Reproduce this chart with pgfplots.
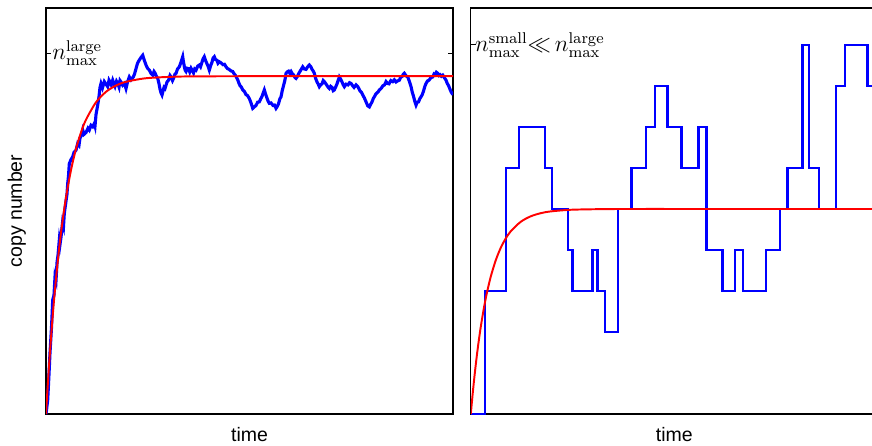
\documentclass[border=0pt]{standalone}
\usepackage{pgfplots}
\pgfplotsset{compat=1.18}
\usepackage[no-math]{fontspec}
\setmainfont{Liberation Sans}
\begin{document}
\begin{tikzpicture}
\pgfplotsset{
  panel/.style={scale only axis, width=208.8pt, height=208.3pt,
    xmin=0, xmax=407, xtick=\empty, ytick pos=both, tick align=inside,
    major tick length=2.5pt, yticklabels={},
    axis line style={line width=0.6pt, black},
    tick style={line width=0.5pt, black}, clip=true},
}
\begin{axis}[panel, name=L, at={(0,0)}, anchor=south west, ymin=0, ymax=112.5, ytick={100}]
\addplot[blue, line width=1.6pt] coordinates {
(0,0) (1.7,3.9) (3,11) (4,17) (5.5,24) (6.7,31.6) (8,33) (9,38) (10,37) (11,42) (12,44) (13.3,48.2) (14,47) (15,49) (16.5,53) (17.5,52) (18.3,55.6) (20,59) (21,61) (21.7,63.9) (22.5,66) (23.3,69.4) (25,70.5) (26.7,71.3) (28,72.5) (30,73.1) (31.7,75) (33,74.5) (34,76.5) (35.5,77.2) (36.7,78.7) (38,77.5) (40,78) (42,79.2) (43.3,78.7) (45,80) (46.7,79.6) (48.3,80.5) (49,79.8) (50,83) (51.7,85.6) (53,88) (54,90.5) (55,91.6) (56.5,90.4) (58.3,92.1) (60,91.4) (61.7,90.7) (63,92.5) (64,92) (65.3,91.2) (66.7,92.5) (68,91.5) (69,90.8) (70.5,92.2) (71.7,91.6) (73,90.6) (74,92.4) (75.5,91.8) (76.7,91.1) (78.5,91.6) (80,90.2) (81.5,92) (83.3,93.4) (85,92.6) (87.3,93.4) (88.5,94.2) (90,95.7) (91.5,97.2) (93.3,98.1) (95,98.8) (96.7,99.4) (98.3,98) (100,96.7) (101.5,95.8) (103.3,95.3) (105,94.4) (106.7,93.9) (108,94.9) (109,94.5) (110.5,93.5) (111.7,93) (113,91.5) (114,90) (115,89) (116,88.4) (117,89.5) (118,90.5) (119,90.2) (120,91.1) (121,92) (122.5,92.5) (124,93.8) (125,93.4) (126.5,92.4) (127.5,93) (129,94.2) (130,94.4) (131.5,95.6) (133.3,96.2) (135,97.5) (136.7,99) (137.5,97.5) (138.5,96) (139.2,95.2) (140,94.9) (141.2,95.8) (142.5,95.7) (143.7,94.8) (145,95.8) (146.2,95.2) (147.5,94.5) (148.7,95.6) (150,95.3) (151.7,96.4) (153.3,96.7) (154.5,96.2) (156,97.5) (157,98.4) (158.3,99) (159.5,98) (161,97) (162,96.4) (163.3,95.3) (164.6,96.5) (166,97.5) (167,98.6) (168.3,99) (169.5,98.2) (171,98) (172,97.2) (173.3,97.6) (175,97.3) (177,96.8) (178.5,96.9) (180,96.2) (181.5,95.7) (183,95.5) (184.8,95.1) (186.7,94.9) (188,94.3) (189,94) (190.3,93.4) (191.7,92.6) (193,91.6) (194,91) (195.3,90.6) (196.7,89.8) (198.3,89.4) (200,88.5) (201.6,88.2) (203.3,87.4) (205,86.2) (206.7,84.7) (208.3,85.1) (210,85.5) (211.6,86.4) (213.3,86.5) (214.6,87.3) (216,88) (217.2,89) (218.3,89.8) (219.6,88.6) (221,87.5) (222.2,86.6) (223.3,86.1) (225,86.2) (227,85.5) (228.5,85.6) (230,84.7) (231.2,85.2) (232.5,86) (233.8,87.3) (235,87.9) (236.2,89.6) (237.5,91) (238.8,92.4) (240,94.4) (241.2,94.8) (242.5,95) (243.8,94.4) (245,94.9) (246.2,94.3) (247.5,94) (248.8,93.3) (250,93) (251.5,93.6) (253,94.5) (255,95.4) (256.7,96.2) (258.3,95.6) (260,95.5) (261.6,96.2) (263.3,96.7) (264.6,96.3) (266,95.5) (267.2,95) (268.3,94.4) (269.6,93) (271,92) (272.2,91.4) (273.3,90.7) (274.6,91.2) (276,91.5) (277.2,92.4) (278.3,92.1) (279.6,91.6) (281,91) (282.2,90.5) (283.3,90.2) (284.6,90.8) (286,90.5) (287.2,89.6) (288.3,89.8) (289.6,90.6) (291,91.5) (292.2,92.5) (293.3,93.4) (294.6,92.8) (296,92) (297.2,91.2) (298.3,90.7) (300,91.4) (302,91.2) (303.5,91.8) (305,91.6) (306.5,91) (308,90.5) (310,91.2) (311.7,90.7) (313,90.1) (314,89.5) (315.3,89.2) (316.7,88.4) (318.3,87.6) (320,86.5) (321.7,85.4) (323.3,85.1) (324.6,85.8) (326,86.5) (327.2,87.4) (328.3,87.9) (329.6,88.6) (331,89) (332.2,89.3) (333.3,89.8) (335,90.2) (337,91) (338.5,91.2) (340,92.1) (341.5,91.6) (343,91.5) (344.8,92.4) (346.7,92.1) (348.3,92.6) (350,92) (351.6,92.3) (353.3,92.5) (354.6,93.3) (356,93.5) (357.2,94.1) (358.3,94.4) (360,93.7) (361.7,93.4) (363.3,92.2) (365,90.7) (366.2,89.2) (367.5,88) (368.8,86.6) (370,85.6) (371.2,86.4) (372.5,86.5) (373.8,87.4) (375,87.9) (376.2,88.5) (377.5,89.5) (378.8,90.8) (380,91.6) (381.5,92.3) (383,92.5) (384.8,93.2) (386.7,93.4) (388,94.2) (389,94) (390.3,94.7) (391.7,94.4) (393,93.8) (394,94) (395.3,93.6) (396.7,93.9) (398.3,93.2) (400,92.5) (401.2,91.6) (402.5,91) (403.8,90.1) (405,89.3) (406,88.8) (407,88.5)
};
\addplot[red, line width=1pt, smooth] coordinates {
(0,0) (2,9.13) (4,17.35) (6,24.79) (8,31.50) (10,37.55) (13,45.55) (16,52.40) (20,60.03) (25,67.62) (30,73.50) (35,78.05) (40,81.56) (50,86.39) (60,89.28) (70,91.02) (80,92.05) (100,93.04) (130,93.48) (160,93.57) (200,93.6) (300,93.6) (407,93.6)
};
\node[anchor=west, inner sep=0pt, font=\fontsize{12}{14}\selectfont] at (axis cs:6,100) {$n^{\mathrm{large}}_{\max}$};
\end{axis}
\begin{axis}[panel, name=R, at={(217.9pt,0)}, anchor=south west, ymin=0, ymax=9.9, ytick={9}]
\addplot[blue, line width=1.1pt, const plot] coordinates {
(0,0) (14.3,3) (35,6) (48.3,7) (74.3,6) (81,5) (97,4) (101.7,3) (121.7,4) (126.7,3) (134.3,2) (147,5) (160.7,6) (175,7) (184,8) (196.7,7) (210.7,6) (227.7,7) (235.7,4) (251.7,3) (264.3,4) (272.3,3) (295,4) (309.3,5) (316.7,6) (331.7,9) (338.3,6) (348.3,5) (365,8) (374.3,9) (396.7,8) (407,8)
};
\addplot[red, line width=1pt, smooth] coordinates {
(0,0) (2,0.526) (4,0.996) (6,1.417) (8,1.794) (10,2.131) (13,2.571) (16,2.944) (20,3.354) (25,3.753) (30,4.056) (35,4.284) (40,4.458) (50,4.689) (60,4.822) (70,4.898) (80,4.941) (100,4.981) (130,4.996) (160,5.0) (250,5.0) (407,5.0)
};
\node[anchor=west, inner sep=0pt, font=\fontsize{12}{14}\selectfont] at (axis cs:4,9) {$n^{\mathrm{small}}_{\max}{\ll}\, n^{\mathrm{large}}_{\max}$};
\end{axis}
\node[rotate=90] at ([xshift=-15pt]L.west) {copy number};
\node[anchor=north] at ([yshift=-3.4pt]L.south) {time};
\node[anchor=north] at ([yshift=-3.4pt]R.south) {time};
\pgfresetboundingbox
\useasboundingbox (-23.6pt,-15.9pt) rectangle (423.7pt,212.4pt);
\end{tikzpicture}
\end{document}
